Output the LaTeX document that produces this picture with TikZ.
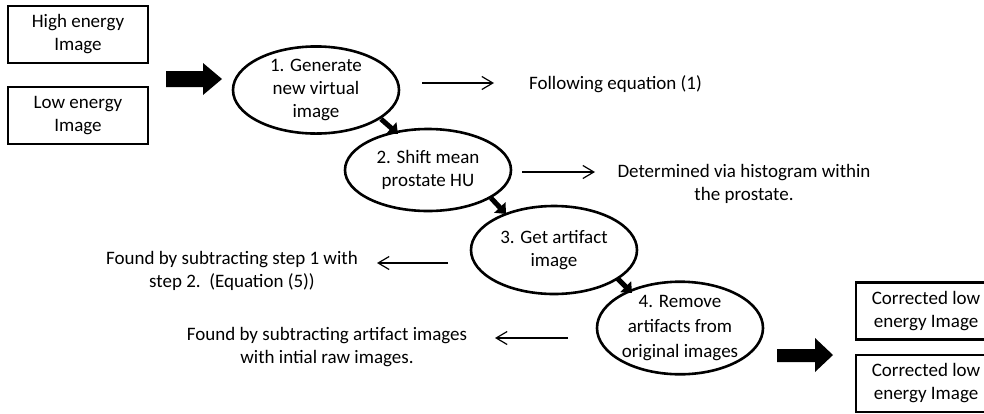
\documentclass[tikz,border=0pt]{standalone}
\usepackage{fontspec}
\setmainfont{Carlito}
\usetikzlibrary{arrows.meta,shapes.geometric}

\tikzset{
  txt/.style={font=\fontsize{19}{23}\selectfont, align=center, inner sep=0pt},
  imgbox/.style={txt, draw, line width=2.6pt, minimum width=140pt, minimum height=57pt},
  stepoval/.style={txt, draw, ellipse, line width=2.6pt, minimum width=166pt, minimum height=82pt},
  note/.style={line width=1.2pt, -{Straight Barb[length=11pt,width=13pt,line width=1.2pt]}},
  flow/.style={line width=5pt, -{Triangle[length=9pt,width=15pt]}},
  bigarrow/.style={fill=black}
}

\begin{document}
\begin{tikzpicture}[x=1pt,y=-1pt]
  \clip (0,0) rectangle (984,413);
  \fill[white] (0,0) rectangle (984,413);

  % input images
  \node[imgbox] (high) at (78,34.5) {High energy\\Image};
  \node[imgbox] (low)  at (78,115.5) {Low energy\\Image};

  % block arrow into the first step
  \fill[bigarrow] (166,71) -- (203,71) -- (203,63) -- (222,79) -- (203,95)
    -- (203,87) -- (166,87) -- cycle;

  % processing steps
  \node[stepoval] (s1) at (316,90)  {1. Generate\\new virtual\\image};
  \node[stepoval] (s2) at (428,170) {2. Shift mean\\prostate HU};
  \node[stepoval, minimum height=88pt] (s3) at (554,250) {3. Get artifact\\image};
  \node[stepoval, minimum height=90pt, font=\fontsize{19}{25}\selectfont] (s4) at (680,328)
    {4. Remove\\artifacts from\\original images};

  % short arrows between the steps
  \coordinate (f1a) at (381,119); \coordinate (f1b) at (398,134);
  \coordinate (f2a) at (491,198); \coordinate (f2b) at (506,214);
  \coordinate (f3a) at (617,278); \coordinate (f3b) at (632,293);
  \draw[flow] (f1a) -- (f1b);
  \draw[flow] (f2a) -- (f2b);
  \draw[flow] (f3a) -- (f3b);

  % explanatory notes
  \node[txt] (n1) at (615.5,84)  {Following equation (1)};
  \node[txt] (n2) at (744,184)   {Determined via histogram within\\the prostate.};
  \node[txt] (n3) at (232,271)   {Found by subtracting step 1 with\\step 2.\ \ (Equation (5))};
  \node[txt] (n4) at (327,347)   {Found by subtracting artifact images\\with intial raw images.};

  \coordinate (p1a) at (422,83);  \coordinate (p1b) at (494,83);
  \coordinate (p2a) at (522,172); \coordinate (p2b) at (595,172);
  \coordinate (p3a) at (448,263); \coordinate (p3b) at (377,263);
  \coordinate (p4a) at (568,338); \coordinate (p4b) at (495,338);
  \draw[note] (p1a) -- (p1b);
  \draw[note] (p2a) -- (p2b);
  \draw[note] (p3a) -- (p3b);
  \draw[note] (p4a) -- (p4b);

  % block arrow to the outputs
  \fill[bigarrow] (777,349) -- (815,349) -- (815,338) -- (833,355) -- (815,372)
    -- (815,362) -- (777,362) -- cycle;

  % corrected outputs
  \node[imgbox] (out1) at (926,311) {Corrected low\\energy Image};
  \node[imgbox] (out2) at (926,383.5) {Corrected low\\energy Image};
\end{tikzpicture}
\end{document}
